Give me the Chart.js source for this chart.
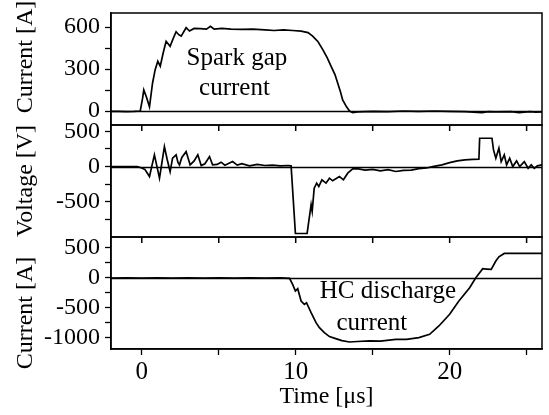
<!DOCTYPE html>
<html>
<head>
<meta charset="utf-8">
<script src="https://cdn.jsdelivr.net/npm/chart.js@4.4.0/dist/chart.umd.min.js"></script>
<style>
  html, body { margin: 0; padding: 0; background: #fff; }
</style>
</head>
<body>
<canvas id="waveChart" width="549" height="415"></canvas>
<script>
// spark gap current [A]
const sparkT = [-2, -1.5, -1, -0.5, -0.1, 0.05, 0.13, 0.3, 0.5, 0.7, 0.87, 1.04, 1.2, 1.4, 1.58, 1.84, 2.05, 2.23, 2.4, 2.56, 2.88, 3.1, 3.4, 3.8, 4.2, 4.46, 4.7, 5.2, 5.8, 6.5, 7.2, 8.0, 8.6, 9.2, 9.8, 10.35, 10.8, 11.1, 11.45, 11.75, 12.05, 12.3, 12.55, 12.73, 12.9, 13.05, 13.3, 13.5, 13.7, 14.0, 15, 16, 17, 18, 19, 20, 21, 22.1, 22.5, 23, 24, 24.5, 25.2, 25.6, 26];
const sparkI = [-3, -2, -5, -3, 0, 90, 150, 100, 30, 200, 295, 355, 320, 420, 498, 462, 520, 566, 545, 535, 595, 571, 590, 588, 585, 605, 585, 590, 585, 583, 585, 580, 575, 580, 575, 571, 560, 535, 495, 440, 380, 319, 260, 199, 140, 79, 30, 0, -12, -6, -2, -5, 0, -3, 0, -2, -5, -12, -4, -6, -5, -12, -5, -8, -6];

// voltage [V]
const voltT = [-2, -1, -0.3, 0, 0.2, 0.5, 0.82, 1.15, 1.47, 1.65, 1.84, 2.0, 2.23, 2.35, 2.45, 2.6, 2.88, 3.14, 3.4, 3.64, 3.86, 4.1, 4.4, 4.6, 4.9, 5.15, 5.4, 5.9, 6.2, 6.5, 7.0, 7.5, 8.0, 8.5, 9.0, 9.5, 9.7, 9.98, 10.74, 11.0, 11.07, 11.2, 11.36, 11.5, 11.7, 11.97, 12.19, 12.4, 12.84, 13.1, 13.38, 13.7, 14.0, 14.5, 15, 15.5, 16, 16.5, 17, 17.5, 18, 18.5, 18.9, 19.5, 20, 20.5, 21, 21.5, 21.9, 21.95, 22.75, 22.85, 23.0, 23.2, 23.35, 23.55, 23.7, 23.9, 24.1, 24.35, 24.55, 24.85, 25.1, 25.3, 25.5, 25.7, 26];
const voltV = [0, 0, 0, -20, -40, -142, 166, -165, 283, 100, -71, 120, 166, 60, 24, 130, 212, 24, 80, 166, 14, 40, 142, 24, 30, 62, 20, 71, 20, 40, 10, 30, 15, 20, 10, 15, 10, -950, -950, -542, -637, -306, -235, -283, -188, -235, -165, -202, -142, -188, -94, -33, -30, -50, -40, -60, -45, -70, -55, -50, -30, -20, 0, 24, 55, 80, 95, 102, 104, 402, 402, 236, 118, 260, 71, 166, 24, 118, 0, 80, 0, 71, -24, 24, -24, 10, 24];

// HC discharge current [A]
const hcT = [-2, -1, 0, 1, 2, 3, 4, 5, 6, 7, 8, 9, 9.6, 9.8, 9.98, 10.13, 10.35, 10.56, 10.7, 11.0, 11.32, 11.54, 11.86, 12.19, 12.6, 13.0, 13.5, 14.0, 14.8, 15.5, 16.5, 17.2, 18.0, 18.7, 19.3, 20.0, 20.6, 21.3, 21.7, 22.15, 22.4, 22.7, 23.0, 23.2, 23.55, 24, 25, 26];
const hcI = [-5, -3, -5, -4, -6, -3, -5, -4, -6, -3, -5, -4, -10, -111, -222, -183, -389, -444, -417, -583, -750, -833, -917, -983, -1017, -1050, -1073, -1065, -1056, -1060, -1028, -1030, -1000, -944, -806, -611, -389, -167, 0, 150, 145, 139, 278, 350, 405, 405, 405, 405];

// ticks
const timeTicks = [0, 5, 10, 15, 20, 25];
const timeLabels = [0, 10, 20];
const sparkTicks = [0, 150, 300, 450, 600];
const sparkLabels = [0, 300, 600];
const voltTicks = [-750, -500, -250, 0, 250, 500];
const voltLabels = [-500, 0, 500];
const hcTicks = [-1000, -750, -500, -250, 0, 250, 500];
const hcLabels = [-1000, -500, 0, 500];

const SERIF = '"Liberation Serif", "Times New Roman", serif';
const AXIS_W = 111;

const ctx = document.getElementById('waveChart').getContext('2d');

function toPoints(xs, ys) {
    return xs.map((x, i) => ({ x: x, y: ys[i] }));
}

function panelScale(min, max, ticks, labels) {
    return {
        type: 'linear',
        position: 'left',
        stack: 'panels',
        stackWeight: 1,
        min: min,
        max: max,
        afterBuildTicks: s => { s.ticks = ticks.map(v => ({ value: v })); },
        afterFit: s => { s.width = AXIS_W; s.paddingTop = 0; s.paddingBottom = 0; },
        ticks: {
            callback: v => labels.includes(v) ? String(v) : '',
            font: { family: SERIF, size: 24 },
            color: '#000',
            padding: 5,
            autoSkip: false,
            maxRotation: 0
        },
        grid: { drawOnChartArea: false, tickLength: 6, tickWidth: 1.3, color: '#000' },
        border: { display: true, color: '#000', width: 1.5 }
    };
}

// frames, zero lines, inner ticks and text
const panelDecor = {
    id: 'panelDecor',
    beforeDatasetsDraw(chart) {
        const { ctx, chartArea, scales } = chart;
        ctx.save();
        ctx.strokeStyle = '#000';
        ctx.lineWidth = 1.5;
        ['y1', 'y2', 'y3'].forEach(id => {
            const y0 = Math.round(scales[id].getPixelForValue(0)) + 0.5;
            ctx.beginPath();
            ctx.moveTo(chartArea.left, y0);
            ctx.lineTo(chartArea.right, y0);
            ctx.stroke();
        });
        ctx.restore();
    },
    afterDatasetsDraw(chart) {
        const { ctx, chartArea, scales } = chart;
        ctx.save();
        ctx.strokeStyle = '#000';
        ctx.lineWidth = 1.5;
        ['y1', 'y2', 'y3'].forEach((id, i) => {
            const s = scales[id];
            ctx.strokeRect(chartArea.left, s.top, chartArea.right - chartArea.left, s.bottom - s.top);
            if (i > 0) {
                timeTicks.forEach(v => {
                    const px = scales.x.getPixelForValue(v);
                    ctx.beginPath();
                    ctx.moveTo(px, s.top);
                    ctx.lineTo(px, s.top + 6);
                    ctx.stroke();
                });
            }
        });

        ctx.fillStyle = '#000';
        ctx.textAlign = 'center';
        ctx.textBaseline = 'alphabetic';
        ctx.font = '25px ' + SERIF;
        ctx.fillText('Spark gap', scales.x.getPixelForValue(6.18), scales.y1.getPixelForValue(327));
        ctx.fillText('current', scales.x.getPixelForValue(6.02), scales.y1.getPixelForValue(114));
        ctx.fillText('HC discharge', scales.x.getPixelForValue(15.99), scales.y3.getPixelForValue(-342));
        ctx.fillText('current', scales.x.getPixelForValue(14.95), scales.y3.getPixelForValue(-870));

        // y axis titles
        ctx.font = '24px ' + SERIF;
        ctx.textBaseline = 'middle';
        [['Current [A]', 57], ['Voltage [V]', 181], ['Current [A]', 313]].forEach(([txt, cy]) => {
            ctx.save();
            ctx.translate(26, cy);
            ctx.rotate(-Math.PI / 2);
            ctx.fillText(txt, 0, 0);
            ctx.restore();
        });
        ctx.restore();
    }
};

const waveChart = new Chart(ctx, {
    type: 'line',
    data: {
        datasets: [{
            label: 'Spark gap current',
            data: toPoints(sparkT, sparkI),
            yAxisID: 'y1'
        }, {
            label: 'Voltage',
            data: toPoints(voltT, voltV),
            yAxisID: 'y2'
        }, {
            label: 'HC discharge current',
            data: toPoints(hcT, hcI),
            yAxisID: 'y3'
        }]
    },
    options: {
        responsive: false,
        animation: false,
        layout: { padding: { top: 13, right: 7, bottom: 0, left: 0 } },
        elements: {
            line: { borderColor: '#000', borderWidth: 1.7, tension: 0, fill: false },
            point: { radius: 0 }
        },
        plugins: { legend: { display: false }, tooltip: { enabled: false } },
        scales: {
            x: {
                type: 'linear',
                position: 'bottom',
                min: -2,
                max: 26,
                afterBuildTicks: s => { s.ticks = timeTicks.map(v => ({ value: v })); },
                afterFit: s => { s.height = 66; s.paddingLeft = 0; s.paddingRight = 0; },
                ticks: {
                    callback: v => timeLabels.includes(v) ? String(v) : '',
                    font: { family: SERIF, size: 25 },
                    color: '#000',
                    padding: 2,
                    autoSkip: false,
                    maxRotation: 0
                },
                grid: { drawOnChartArea: false, tickLength: 6, tickWidth: 1.3, color: '#000' },
                border: { display: true, color: '#000', width: 1.5 },
                title: {
                    display: true,
                    text: 'Time [μs]',
                    font: { family: SERIF, size: 24 },
                    color: '#000',
                    padding: { top: 0, bottom: 4 }
                }
            },
            // stacked left axes are laid out bottom-up in definition order
            y3: panelScale(-1190, 680, hcTicks, hcLabels),
            y2: panelScale(-1000, 590, voltTicks, voltLabels),
            y1: panelScale(-100, 700, sparkTicks, sparkLabels)
        }
    },
    plugins: [panelDecor]
});
</script>
</body>
</html>
